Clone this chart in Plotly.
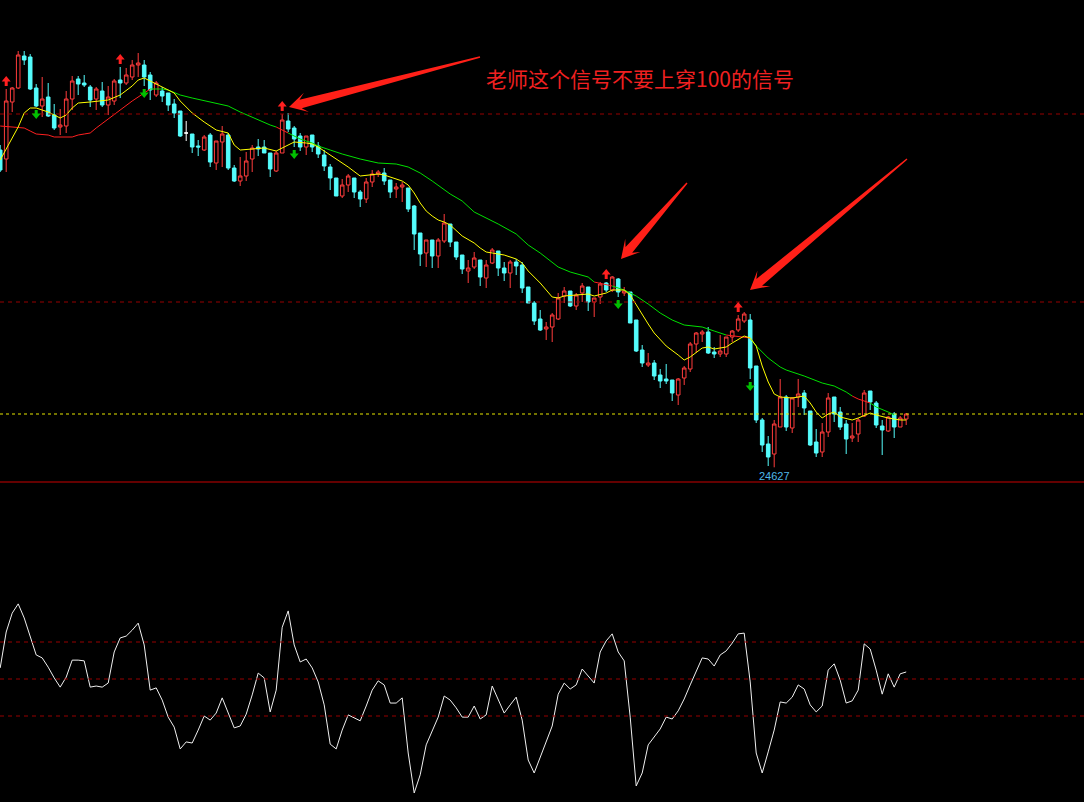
import plotly.graph_objects as go

# ---------------- data ----------------
opens = [27800,27710,28280,28420,28740,28730,28420,28240,28330,28150,
         28030,28040,28310,28510,28470,28430,28310,28390,28250,28290,
         28500,28470,28530,28650,28650,28550,28350,28390,28370,28260,
         28190,27970,27960,27840,27800,27950,27670,27880,27950,27620,
         27490,27540,27710,27830,27830,27770,27590,27770,28090,28020,
         27940,27830,27950,27840,27750,27630,27520,27340,27450,27520,
         27380,27310,27480,27560,27570,27500,27410,27430,27420,27240,
         26970,26770,26900,26740,26890,27060,26880,26750,26590,26630,
         26700,26520,26670,26790,26620,26570,26680,26650,26430,26270,
         26110,26010,26030,26110,26340,26390,26240,26370,26430,26280,
         26330,26470,26400,26510,26370,26380,26100,25800,25650,25670,
         25550,25510,25500,25350,25520,25610,25860,25960,25980,25780,
         25760,25760,25930,26000,26090,26100,25640,25100,24860,24760,
         25030,25330,25020,25330,25370,25190,24880,24780,24980,25330,
         25180,25060,24920,24960,25140,25390,25270,25040,24990,25160,
         25030,25110]
highs = [27850,28410,28430,28790,28790,28760,28460,28530,28470,28260,
         28210,28390,28540,28540,28550,28450,28430,28480,28440,28510,
         28630,28620,28700,28770,28700,28580,28490,28430,28370,28310,
         28190,28090,27960,27900,27950,27970,27890,28040,27970,27650,
         27730,27780,27850,27910,27900,27770,27790,28160,28170,28040,
         27970,27940,27950,27880,27800,27660,27520,27510,27560,27520,
         27400,27520,27600,27600,27620,27500,27470,27480,27420,27250,
         26970,26900,26900,26920,27160,27060,26880,26750,26700,26780,
         26700,26700,26820,26790,26680,26700,26710,26680,26430,26290,
         26200,26080,26170,26370,26430,26390,26370,26470,26430,26320,
         26480,26480,26540,26520,26430,26380,26100,25850,25770,25700,
         25610,25660,25500,25520,25640,25880,25980,26000,26030,25830,
         25950,25930,26000,26150,26180,26160,25640,25120,24940,25100,
         25510,25350,25330,25510,25400,25190,25010,25070,25370,25330,
         25230,25100,25070,25120,25400,25390,25290,25100,25140,25180,
         25140,25170]
lows = [27580,27580,28180,28410,28650,28400,28230,28130,28130,28000,
        27950,27970,28200,28350,28430,28230,28200,28230,28150,28250,
        28320,28450,28500,28530,28440,28300,28330,28280,28190,28120,
        27930,27890,27770,27740,27790,27630,27600,27630,27600,27480,
        27440,27490,27580,27740,27770,27530,27580,27770,27980,27830,
        27790,27750,27780,27720,27590,27400,27340,27320,27380,27320,
        27230,27270,27430,27530,27450,27320,27320,27280,27180,26800,
        26640,26630,26620,26620,26870,26830,26700,26560,26470,26610,
        26440,26420,26660,26540,26490,26420,26550,26370,26270,26050,
        25990,25900,25880,26100,26270,26230,26200,26280,26190,26130,
        26260,26380,26380,26330,26340,26070,25780,25630,25630,25500,
        25420,25460,25290,25250,25450,25580,25770,25880,25760,25720,
        25730,25730,25880,25980,26070,25510,25070,24780,24640,24627,
        25030,24990,24970,25230,25150,24840,24730,24730,24930,25080,
        25000,24760,24880,24880,25130,25200,25020,24750,24980,24920,
        25030,25050]
closes = [27600,28290,28420,28750,28700,28410,28240,28310,28140,28020,
          28050,28310,28490,28460,28450,28300,28410,28250,28330,28490,
          28470,28550,28650,28670,28530,28400,28470,28340,28250,28170,
          27940,27970,27830,27830,27930,27680,27890,27960,27620,27490,
          27540,27690,27820,27810,27770,27610,27770,28100,28010,27910,
          27830,27940,27830,27760,27640,27520,27340,27450,27540,27380,
          27310,27480,27560,27580,27490,27380,27430,27450,27210,26960,
          26760,26900,26740,26900,27070,26880,26730,26610,26620,26720,
          26530,26650,26800,26620,26570,26680,26640,26420,26270,26090,
          26000,26030,26150,26320,26390,26240,26350,26440,26280,26320,
          26460,26400,26530,26380,26390,26070,25790,25670,25670,25540,
          25490,25490,25370,25510,25620,25860,25970,25980,25770,25760,
          25790,25930,25990,26110,26160,25620,25100,24850,24730,25060,
          25330,25030,25320,25360,25220,24850,24770,24980,25320,25160,
          25030,24910,24940,25100,25370,25280,25050,25000,25130,25030,
          25120,25160]

cci = [30,127,178,203,165,114,65,57,32,3,
       -22,5,51,51,49,-22,-19,-22,-11,73,
       111,116,132,151,92,-30,-24,-57,-103,-130,
       -189,-170,-173,-138,-100,-111,-92,-51,-92,-132,
       -127,-95,-43,16,3,-89,-30,140,184,92,
       46,54,30,-8,-70,-176,-189,-138,-97,-105,
       -113,-73,-30,-5,-16,-65,-65,-51,-200,-308,
       -259,-178,-140,-103,-46,-57,-78,-103,-103,-73,
       -108,-97,-19,-57,-92,-70,-49,-111,-219,-254,
       -211,-170,-127,-41,-11,-27,-16,27,8,-11,
       73,103,122,73,49,-103,-289,-254,-178,-157,
       -135,-103,-108,-86,-54,-16,19,57,54,35,
       65,76,97,122,124,-8,-200,-254,-197,-138,
       -62,-65,-49,-16,-27,-70,-89,-73,24,41,
       -3,-65,-59,-30,95,81,24,-41,14,-22,
       14,19]

ma_short_idx = [0,2,3,4,5,6,8,10,11,12,13,15,17,18,20,22,23,24,25,27,29,30,32,34,36,38,39,40,42,44,
                46,47,49,51,52,53,55,57,58,60,62,63,64,66,67,68,69,70,71,72,73,74,75,77,79,80,81,82,84,86,
                87,88,90,92,93,94,97,98,99,101,102,104,105,106,108,109,110,111,113,114,115,117,118,119,121,122,124,125,126,127,
                128,129,130,132,134,135,136,137,138,139,140,142,143,145,146,148,150,151]
ma_short_val = [27700,27930,28030,28170,28220,28220,28180,28120,28150,28220,28270,28280,28290,28300,28350,28440,28500,28520,28490,28430,28370,28290,28170,28080,28000,27970,27850,27800,27810,27820,
                27790,27820,27880,27870,27860,27830,27750,27670,27630,27540,27550,27560,27550,27510,27490,27450,27370,27270,27190,27140,27100,27080,27050,26940,26870,26820,26780,26770,26750,26710,
                26670,26590,26470,26330,26320,26340,26360,26360,26340,26370,26400,26400,26350,26250,26060,25970,25900,25840,25750,25700,25730,25820,25830,25810,25830,25870,25940,25920,25840,25640,
                25480,25360,25330,25320,25340,25270,25180,25120,25160,25180,25130,25100,25120,25170,25150,25120,25100,25100]

ma_long_idx = [0,4,5,6,8,9,12,13,14,15,16,18,20,22,24,25,27,28,30,32,
               35,37,38,40,43,45,46,47,48,50,52,53,55,57,60,63,66,68,70,72,
               75,77,79,81,83,86,88,90,93,95,98,99,101,102,104,106,108,110,112,114,
               117,119,120,121,124,125,126,128,130,131,134,137,139,141,142,143,145,146,148,149]
ma_long_val = [28040,28020,27990,27960,27950,27930,27930,27950,27960,27970,28020,28110,28200,28290,28370,28410,28410,28400,28350,28320,
               28280,28260,28240,28180,28100,28050,28030,28000,27970,27910,27870,27840,27800,27760,27710,27670,27660,27630,27570,27490,
               27360,27290,27180,27120,27060,26960,26850,26770,26630,26580,26530,26480,26450,26440,26400,26340,26260,26170,26100,26050,
               26030,25990,25970,25950,25930,25920,25840,25720,25630,25600,25540,25470,25440,25380,25340,25310,25270,25230,25180,25150]
ma_long_red_ranges = [(0, 25), (46, 48), (99, 102), (121, 125), (142, 145)]

up_signal_idx = [1, 20, 47, 101, 123]
down_signal_idx = [6, 24, 49, 103, 125]
doji_idx = [31]

price_lines = [28160, 26280]
cci_lines = [100, 0, -100]
note_text = "老师这个信号不要上穿100的信号"

# ---------------- style ----------------
RED = "#FF3C3C"
CYAN = "#54FCFC"
BG = "#000000"
GRID_RED = "rgb(150,0,0)"
ARROW_RED = "#FF2018"
MA_GREEN = "#00E000"
MA_RED = "#FF2020"

W, H = 1084, 802
SPLIT_PX = 482
X_RANGE = [-0.2 / 6, (W - 0.2) / 6]
Y_RANGE = [24480, 29300]
CCI_RANGE = [-332.4, 532.4]
split = (H - SPLIT_PX) / H

fig = go.Figure()

n = len(opens)
main = [i for i in range(n) if i not in doji_idx]
fig.add_trace(go.Candlestick(
    x=main,
    open=[opens[i] for i in main], high=[highs[i] for i in main],
    low=[lows[i] for i in main], close=[closes[i] for i in main],
    increasing=dict(line=dict(color=RED, width=1), fillcolor=BG),
    decreasing=dict(line=dict(color=CYAN, width=1), fillcolor=CYAN),
    whiskerwidth=0, hoverinfo="skip", xaxis="x", yaxis="y"))
fig.add_trace(go.Candlestick(
    x=doji_idx,
    open=[opens[i] for i in doji_idx], high=[highs[i] for i in doji_idx],
    low=[lows[i] for i in doji_idx], close=[closes[i] for i in doji_idx],
    increasing=dict(line=dict(color="white", width=1), fillcolor="white"),
    decreasing=dict(line=dict(color="white", width=1), fillcolor="white"),
    whiskerwidth=0, hoverinfo="skip", xaxis="x", yaxis="y"))

# long MA: split into red / green runs
def in_red(i):
    return any(a <= i <= b for a, b in ma_long_red_ranges)

segments = []
cur, cur_col = [], None
for k, i in enumerate(ma_long_idx):
    col = MA_RED if in_red(i) else MA_GREEN
    if cur_col is None:
        cur, cur_col = [k], col
    elif col == cur_col:
        cur.append(k)
    else:
        if col == MA_GREEN:
            segments.append((cur, cur_col))
            cur, cur_col = [cur[-1], k], col
        else:
            cur.append(k)
            segments.append((cur, cur_col))
            cur, cur_col = [k], col
segments.append((cur, cur_col))
for ks, col in segments:
    fig.add_trace(go.Scatter(x=[ma_long_idx[k] for k in ks], y=[ma_long_val[k] for k in ks],
                             mode="lines", line=dict(color=col, width=1), hoverinfo="skip"))

# short MA yellow
fig.add_trace(go.Scatter(x=ma_short_idx, y=ma_short_val, mode="lines",
                         line=dict(color="#FFFF00", width=1), hoverinfo="skip"))

# CCI
fig.add_trace(go.Scatter(x=list(range(n)), y=cci, mode="lines",
                         line=dict(color="#F0F0F0", width=1), hoverinfo="skip",
                         xaxis="x", yaxis="y2"))

shapes = []
for p in price_lines:
    shapes.append(dict(type="line", xref="paper", x0=0, x1=1, yref="y", y0=p, y1=p,
                       line=dict(color=GRID_RED, width=1, dash="4px,4px")))
shapes.append(dict(type="line", xref="paper", x0=0, x1=1, yref="y", y0=closes[-1], y1=closes[-1],
                   line=dict(color="#E6E600", width=1, dash="3px,3px")))
for c in cci_lines:
    shapes.append(dict(type="line", xref="paper", x0=0, x1=1, yref="y2", y0=c, y1=c,
                       line=dict(color=GRID_RED, width=1, dash="4px,4px")))
shapes.append(dict(type="line", xref="paper", x0=0, x1=1, yref="paper", y0=split, y1=split,
                   line=dict(color="rgb(200,0,0)", width=1)))

# big hand-drawn pointer arrows (pixel geometry -> axis coords)
def px_to_data(px, py):
    return ((px - 0.2) / 6.0, Y_RANGE[1] - (py) * (Y_RANGE[1] - Y_RANGE[0]) / SPLIT_PX)

def arrow_path(tail, tip, head_len=18, head_half=10, neck_back=12, neck_half=4.4, tail_half=0.7):
    tx, ty = tail
    px, py = tip
    dx, dy = px - tx, py - ty
    L = (dx * dx + dy * dy) ** 0.5
    ux, uy = dx / L, dy / L
    nx, ny = -uy, ux
    pts = [
        (tx + nx * tail_half, ty + ny * tail_half),
        (px - ux * neck_back + nx * neck_half, py - uy * neck_back + ny * neck_half),
        (px - ux * head_len + nx * head_half, py - uy * head_len + ny * head_half),
        (px, py),
        (px - ux * head_len - nx * head_half, py - uy * head_len - ny * head_half),
        (px - ux * neck_back - nx * neck_half, py - uy * neck_back - ny * neck_half),
        (tx - nx * tail_half, ty - ny * tail_half),
    ]
    d = []
    for k, (x, y) in enumerate(pts):
        X, Y = px_to_data(x, y)
        d.append(("M" if k == 0 else "L") + f"{X:.4f},{Y:.2f}")
    return " ".join(d) + " Z"

pointer_arrows = [((480, 57), (289, 107)), ((687, 183), (621, 259)), ((907, 159), (750, 290))]
for tail, tip in pointer_arrows:
    shapes.append(dict(type="path", xref="x", yref="y", path=arrow_path(tail, tip),
                       fillcolor=ARROW_RED, line=dict(width=0)))

# small signal arrows (pixel-sized, anchored to the candle high / low)
UP_ARROW = "M-1.5,3 L1.5,3 L1.5,7.5 L4.5,7.5 L0,13 L-4.5,7.5 L-1.5,7.5 Z"
DOWN_ARROW = "M-1.5,-3 L1.5,-3 L1.5,-6.5 L4.5,-6.5 L0,-12 L-4.5,-6.5 L-1.5,-6.5 Z"
for i in up_signal_idx:
    shapes.append(dict(type="path", xref="x", yref="y", xsizemode="pixel", ysizemode="pixel",
                       xanchor=i, yanchor=highs[i], path=UP_ARROW,
                       fillcolor="#FF2020", line=dict(width=0)))
for i in down_signal_idx:
    shapes.append(dict(type="path", xref="x", yref="y", xsizemode="pixel", ysizemode="pixel",
                       xanchor=i, yanchor=lows[i], path=DOWN_ARROW,
                       fillcolor="#00C000", line=dict(width=0)))

annotations = []
low_min = min(lows)
low_i = lows.index(low_min)
annotations.append(dict(x=low_i, y=low_min, xref="x", yref="y", text=str(low_min), showarrow=False,
                        yshift=-9, font=dict(family="Liberation Sans, Arial", size=11, color="#4FB8E8")))
annotations.append(dict(x=640 / W, y=1 - 78 / H, xref="paper", yref="paper", text=note_text,
                        showarrow=False, xanchor="center", yanchor="middle",
                        font=dict(family="Noto Sans CJK SC", size=21, color="#F02020")))

fig.update_layout(
    width=W, height=H, margin=dict(l=0, r=0, t=0, b=0),
    paper_bgcolor=BG, plot_bgcolor=BG, showlegend=False,
    boxgap=0.15,
    xaxis=dict(range=X_RANGE, visible=False, rangeslider=dict(visible=False), fixedrange=True),
    yaxis=dict(domain=[split, 1], range=Y_RANGE, visible=False),
    yaxis2=dict(domain=[0, split], range=CCI_RANGE, visible=False, anchor="x"),
    shapes=shapes, annotations=annotations,
)

fig.write_html(
    "out.html",
    config={"displayModeBar": False},
    post_script="document.body.style.margin='0';document.body.style.padding='0';"
                "document.body.style.background='#000';document.body.style.overflow='hidden';",
)
